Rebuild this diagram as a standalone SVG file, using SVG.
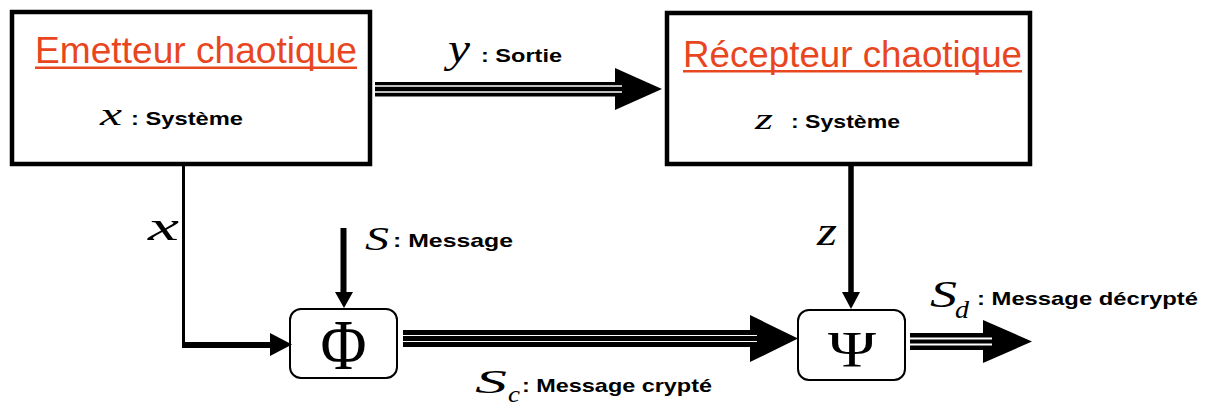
<svg xmlns="http://www.w3.org/2000/svg" width="1216" height="406" viewBox="0 0 1216 406">
  <style>
    .big { fill: #ffffff; stroke: #000000; stroke-width: 4.5; }
    .op { fill: #ffffff; stroke: #000000; stroke-width: 2; }
    .title { font-family: "Liberation Sans", Arial, sans-serif; font-size: 36px; fill: #E8461E; }
    .lbl { font-family: "Liberation Sans", Arial, sans-serif; font-size: 19px; font-weight: bold; fill: #000000; }
    .math { font-family: "Liberation Serif", "Times New Roman", serif; font-style: italic; fill: #000000; }
    .sym { font-family: "Liberation Serif", "Times New Roman", serif; fill: #000000; }
    .ink { fill: #000000; }
    .gap { stroke: #ffffff; fill: none; }
    .wire { stroke: #000000; fill: none; }
  </style>

  <!-- chaotic transmitter -->
  <g id="emetteur">
    <rect class="big" x="12" y="12" width="358" height="152"/>
    <text class="title" x="35" y="63" textLength="322" lengthAdjust="spacingAndGlyphs">Emetteur chaotique</text>
    <rect fill="#E8461E" x="35" y="66.5" width="322" height="2.5"/>
    <text class="math" x="100" y="125" font-size="31" textLength="22" lengthAdjust="spacingAndGlyphs">x</text>
    <text class="lbl" x="131" y="125" textLength="112" lengthAdjust="spacingAndGlyphs">: Système</text>
  </g>

  <!-- chaotic receiver -->
  <g id="recepteur">
    <rect class="big" x="667" y="13" width="363" height="151"/>
    <text class="title" x="683" y="66.5" textLength="339" lengthAdjust="spacingAndGlyphs">Récepteur chaotique</text>
    <rect fill="#E8461E" x="683" y="70" width="339" height="2.5"/>
    <text class="math" x="755" y="129" font-size="30" textLength="18" lengthAdjust="spacingAndGlyphs">z</text>
    <text class="lbl" x="791" y="128" textLength="109" lengthAdjust="spacingAndGlyphs">: Système</text>
  </g>

  <!-- encryption operator -->
  <g id="phi">
    <rect class="op" x="290" y="309" width="107" height="69" rx="11" ry="11"/>
    <text class="sym" x="343.5" y="369" font-size="72" text-anchor="middle" textLength="46" lengthAdjust="spacingAndGlyphs">Φ</text>
  </g>

  <!-- decryption operator -->
  <g id="psi">
    <rect class="op" x="798" y="310" width="107" height="70" rx="11" ry="11"/>
    <text class="sym" x="852" y="366" font-size="50" text-anchor="middle" textLength="48" lengthAdjust="spacingAndGlyphs">Ψ</text>
  </g>

  <g id="connectors">
    <!-- y : output of transmitter to receiver (triple line) -->
    <polygon class="ink" points="615,68 662,89 615,110"/>
    <rect class="ink" x="375" y="82" width="247" height="14.5"/>
    <line class="gap" x1="375" y1="86" x2="622" y2="86" stroke-width="1.6"/>
    <line class="gap" x1="375" y1="92" x2="622" y2="92" stroke-width="1.6"/>

    <!-- x : transmitter state to Phi -->
    <line class="wire" x1="183.5" y1="164" x2="183.5" y2="348" stroke-width="3"/>
    <line class="wire" x1="182" y1="345" x2="272" y2="345" stroke-width="6"/>
    <polygon class="ink" points="270,333 292,344.5 270,356"/>

    <!-- S : message into Phi -->
    <line class="wire" x1="343.5" y1="228" x2="343.5" y2="294" stroke-width="6"/>
    <polygon class="ink" points="335,292 353,292 344,308"/>

    <!-- Sc : encrypted message, Phi to Psi -->
    <polygon class="ink" points="750,315 798,338.5 750,362"/>
    <rect class="ink" x="403" y="330" width="354" height="17"/>
    <line class="gap" x1="403" y1="335.5" x2="757" y2="335.5" stroke-width="1"/>
    <line class="gap" x1="403" y1="341.5" x2="757" y2="341.5" stroke-width="1"/>

    <!-- z : receiver state to Psi -->
    <line class="wire" x1="851" y1="164" x2="851" y2="294" stroke-width="5.5"/>
    <polygon class="ink" points="842,292 860,292 851,309"/>

    <!-- Sd : decrypted message output -->
    <polygon class="ink" points="983,320 1032,341.5 983,363"/>
    <rect class="ink" x="910" y="333" width="82" height="17"/>
    <line class="gap" x1="910" y1="338.5" x2="992" y2="338.5" stroke-width="2"/>
    <line class="gap" x1="910" y1="344.5" x2="992" y2="344.5" stroke-width="2"/>
  </g>

  <!-- signal labels -->
  <g id="labels">
    <text class="math" x="448" y="62" font-size="40" textLength="22" lengthAdjust="spacingAndGlyphs">y</text>
    <text class="lbl" x="481" y="62" textLength="81" lengthAdjust="spacingAndGlyphs">: Sortie</text>

    <text class="math" x="148" y="240" font-size="42" textLength="31" lengthAdjust="spacingAndGlyphs">x</text>

    <text class="math" x="365" y="250" font-size="34" textLength="24" lengthAdjust="spacingAndGlyphs">S</text>
    <text class="lbl" x="393" y="247" textLength="120" lengthAdjust="spacingAndGlyphs">: Message</text>

    <text class="math" x="817" y="245" font-size="40" textLength="20" lengthAdjust="spacingAndGlyphs">z</text>

    <text class="math" x="475" y="393" font-size="34" textLength="32" lengthAdjust="spacingAndGlyphs">S</text>
    <text class="math" x="508" y="402" font-size="24" textLength="12" lengthAdjust="spacingAndGlyphs">c</text>
    <text class="lbl" x="522" y="392" textLength="190" lengthAdjust="spacingAndGlyphs">: Message crypté</text>

    <text class="math" x="930" y="307" font-size="38" textLength="27" lengthAdjust="spacingAndGlyphs">S</text>
    <text class="math" x="955" y="318" font-size="26" textLength="14" lengthAdjust="spacingAndGlyphs">d</text>
    <text class="lbl" x="977" y="305" textLength="221" lengthAdjust="spacingAndGlyphs">: Message décrypté</text>
  </g>
</svg>
